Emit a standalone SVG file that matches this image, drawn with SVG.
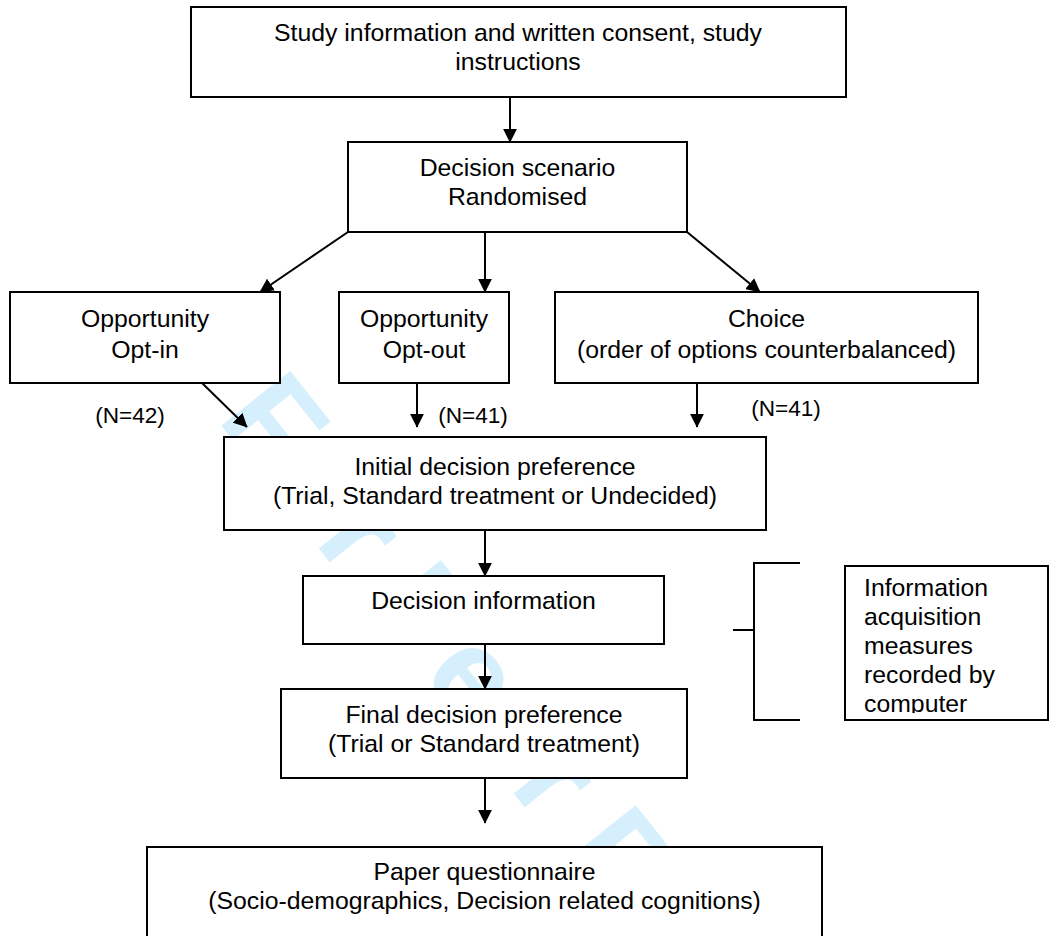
<svg xmlns="http://www.w3.org/2000/svg" width="1052" height="936" viewBox="0 0 1052 936">
<style>
.box{fill:#ffffff;stroke:#000000;stroke-width:2}
.t{font-family:"Liberation Sans",Arial,sans-serif;font-size:24.8px;fill:#000000;text-anchor:middle}
.tl{font-family:"Liberation Sans",Arial,sans-serif;font-size:24.8px;fill:#000000}
.n{font-family:"Liberation Sans",Arial,sans-serif;font-size:22.6px;fill:#000000;text-anchor:middle}
.c{stroke:#000000;stroke-width:2;fill:none}
.wm{font-family:"Liberation Sans",Arial,sans-serif;font-weight:bold;font-size:128px;fill:#d5effc}
</style>
<defs>
<marker id="ah" markerUnits="userSpaceOnUse" markerWidth="14" markerHeight="14" viewBox="0 0 10 10" refX="9.5" refY="5" orient="auto">
<path d="M0,0 L10,5 L0,10 z" fill="#000000"/>
</marker>
<clipPath id="infoClip"><rect x="846" y="567" width="201" height="146"/></clipPath>
</defs>
<rect x="0" y="0" width="1052" height="936" fill="#ffffff"/>
<g id="watermark">
<text class="wm" transform="translate(216,419) rotate(51.5)">For Peer Review</text>
</g>
<g id="connectors">
<line class="c" x1="510" y1="97" x2="510" y2="142" marker-end="url(#ah)"/>
<line class="c" x1="348" y1="232" x2="260" y2="292" marker-end="url(#ah)"/>
<line class="c" x1="485" y1="232" x2="485" y2="292" marker-end="url(#ah)"/>
<line class="c" x1="687" y1="232" x2="760" y2="292" marker-end="url(#ah)"/>
<line class="c" x1="202" y1="383" x2="247" y2="427" marker-end="url(#ah)"/>
<line class="c" x1="417" y1="383" x2="417" y2="427" marker-end="url(#ah)"/>
<line class="c" x1="697" y1="383" x2="697" y2="427" marker-end="url(#ah)"/>
<line class="c" x1="485" y1="530" x2="485" y2="576" marker-end="url(#ah)"/>
<line class="c" x1="485" y1="644" x2="485" y2="689" marker-end="url(#ah)"/>
<line class="c" x1="485" y1="778" x2="485" y2="823" marker-end="url(#ah)"/>
<path class="c" d="M800,563 L754,563 L754,720 L800,720 M733,630 L754,630"/>
</g>
<g id="n-study">
<rect class="box" x="191" y="7" width="655" height="90"/>
<text class="t" x="518" y="41">Study information and written consent, study</text>
<text class="t" x="518" y="70">instructions</text>
</g>
<g id="n-scenario">
<rect class="box" x="348" y="142" width="339" height="90"/>
<text class="t" x="517.5" y="176">Decision scenario</text>
<text class="t" x="517.5" y="205">Randomised</text>
</g>
<g id="n-optin">
<rect class="box" x="10" y="292" width="270" height="91"/>
<text class="t" x="145" y="327">Opportunity</text>
<text class="t" x="145" y="358">Opt-in</text>
</g>
<g id="n-optout">
<rect class="box" x="339" y="292" width="170" height="91"/>
<text class="t" x="424" y="327">Opportunity</text>
<text class="t" x="424" y="358">Opt-out</text>
</g>
<g id="n-choice">
<rect class="box" x="555" y="292" width="423" height="91"/>
<text class="t" x="766.5" y="327">Choice</text>
<text class="t" x="766.5" y="358">(order of options counterbalanced)</text>
</g>
<g id="labels">
<text class="n" x="130" y="423">(N=42)</text>
<text class="n" x="473" y="423">(N=41)</text>
<text class="n" x="786" y="416">(N=41)</text>
</g>
<g id="n-initial">
<rect class="box" x="224" y="437" width="542" height="93"/>
<text class="t" x="495" y="475">Initial decision preference</text>
<text class="t" x="495" y="504">(Trial, Standard treatment or Undecided)</text>
</g>
<g id="n-decinfo">
<rect class="box" x="303" y="576" width="361" height="68"/>
<text class="t" x="483.5" y="609">Decision information</text>
</g>
<g id="n-final">
<rect class="box" x="281" y="689" width="406" height="89"/>
<text class="t" x="484" y="723">Final decision preference</text>
<text class="t" x="484" y="752">(Trial or Standard treatment)</text>
</g>
<g id="n-info">
<rect class="box" x="845" y="566" width="203" height="154"/>
<g clip-path="url(#infoClip)">
<text class="tl" x="864" y="596">Information</text>
<text class="tl" x="864" y="625">acquisition</text>
<text class="tl" x="864" y="654">measures</text>
<text class="tl" x="864" y="683">recorded by</text>
<text class="tl" x="864" y="712">computer</text>
</g>
</g>
<g id="n-paper">
<rect class="box" x="147" y="847" width="675" height="100"/>
<text class="t" x="484.5" y="880">Paper questionnaire</text>
<text class="t" x="484.5" y="909">(Socio-demographics, Decision related cognitions)</text>
</g>
</svg>
